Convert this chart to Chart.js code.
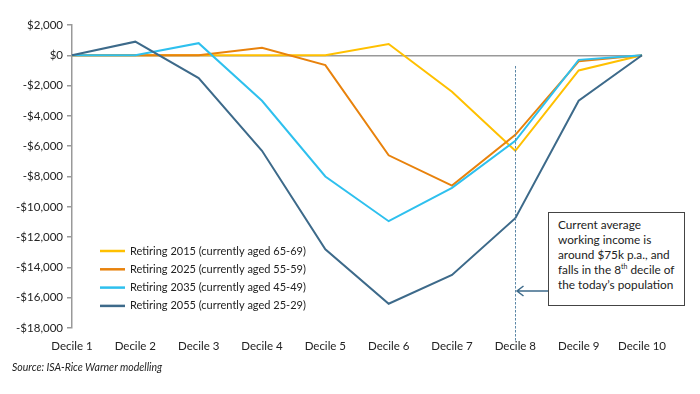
<!DOCTYPE html>
<html lang="en">
<head>
<meta charset="UTF-8">
<title>Retirement outcomes by decile</title>
<style>
body {
    margin: 0;
    background: #fff;
    font-family: Lato, "Open Sans", sans-serif;
}
#wrap {
    position: relative;
    width: 700px;
    height: 394px;
}
#note {
    position: absolute;
    left: 548px;
    top: 212px;
    width: 126px;
    height: 84px;
    border: 1.5px solid #444;
    padding: 4px 0 4px 9px;
    font-size: 11.8px;
    line-height: 15px;
    color: #222;
    background: #fff;
}
#note sup {
    font-size: 7px;
    vertical-align: 5px;
    line-height: 0;
}
#source {
    position: absolute;
    left: 12px;
    top: 361px;
    font-size: 10.5px;
    font-style: italic;
    color: #222;
}
</style>
</head>
<body>
<div id="wrap">
    <canvas id="chart" width="700" height="394"></canvas>
    <div id="note">Current average working income is around $75k p.a., and falls in the 8<sup>th</sup> decile of the today’s population</div>
    <div id="source">Source: ISA-Rice Warner modelling</div>
</div>

<script src="https://cdn.jsdelivr.net/npm/chart.js"></script>
<script>
const deciles = ['Decile 1', 'Decile 2', 'Decile 3', 'Decile 4', 'Decile 5',
                 'Decile 6', 'Decile 7', 'Decile 8', 'Decile 9', 'Decile 10'];

const retiring2015 = [0, 0, 0, 0, 0, 750, -2400, -6300, -1000, 0];
const retiring2025 = [0, 0, 0, 500, -650, -6600, -8600, -5250, -400, 0];
const retiring2035 = [0, 0, 800, -3000, -8000, -10950, -8750, -5650, -300, 0];
const retiring2055 = [0, 900, -1500, -6300, -12800, -16400, -14500, -10750, -3000, 0];

const seriesNames = [
    'Retiring 2015 (currently aged 65-69)',
    'Retiring 2025 (currently aged 55-59)',
    'Retiring 2035 (currently aged 45-49)',
    'Retiring 2055 (currently aged 25-29)'
];
const seriesColors = ['#FFC000', '#E8820C', '#2EC0EE', '#3D6A8A'];

const yTicks = [2000, 0, -2000, -4000, -6000, -8000, -10000, -12000, -14000, -16000, -18000];

function money(v) {
    const s = '$' + Math.abs(v).toLocaleString('en-US');
    return v < 0 ? '-' + s : s;
}

// legend drawn inside the plot, bottom-left
const legendPlugin = {
    id: 'innerLegend',
    afterDraw(chart) {
        const { ctx } = chart;
        ctx.save();
        ctx.font = '11px Lato, sans-serif';
        ctx.textBaseline = 'middle';
        chart.data.datasets.forEach((ds, i) => {
            const y = 251 + i * 18.3;
            ctx.strokeStyle = ds.borderColor;
            ctx.lineWidth = 2.5;
            ctx.beginPath();
            ctx.moveTo(100, y);
            ctx.lineTo(125, y);
            ctx.stroke();
            ctx.fillStyle = '#222';
            ctx.fillText(ds.label, 130, y);
        });
        ctx.restore();
    }
};

// dashed marker at decile 8 with arrow from the note
const markerPlugin = {
    id: 'marker',
    afterDatasetsDraw(chart) {
        const { ctx } = chart;
        const x = Math.round(chart.scales.x.getPixelForValue(7)) + 0.5;
        ctx.save();
        ctx.strokeStyle = '#5B87A6';
        ctx.lineWidth = 1;
        ctx.setLineDash([2.5, 1.5]);
        ctx.beginPath();
        ctx.moveTo(x, 66);
        ctx.lineTo(x, 341);
        ctx.stroke();
        ctx.setLineDash([]);
        ctx.strokeStyle = '#3D6A8A';
        ctx.lineWidth = 1.5;
        ctx.beginPath();
        ctx.moveTo(548, 291);
        ctx.lineTo(x + 1, 291);
        ctx.moveTo(x + 8, 286);
        ctx.lineTo(x + 1.5, 291);
        ctx.lineTo(x + 8, 296);
        ctx.stroke();
        ctx.restore();
    }
};

const allSeries = [retiring2015, retiring2025, retiring2035, retiring2055];

new Chart(document.getElementById('chart'), {
    type: 'line',
    data: {
        labels: deciles,
        datasets: allSeries.map((vals, i) => ({
            label: seriesNames[i],
            data: vals,
            borderColor: seriesColors[i],
            backgroundColor: seriesColors[i],
            borderWidth: 2,
            pointRadius: 0,
            tension: 0,
            order: 4 - i
        }))
    },
    options: {
        responsive: false,
        animation: false,
        layout: { padding: { left: 0, right: 58, top: 25, bottom: 0 } },
        plugins: {
            legend: { display: false },
            tooltip: { enabled: false }
        },
        scales: {
            x: {
                offset: false,
                grid: { display: false },
                border: { display: false },
                ticks: {
                    color: '#222',
                    font: { family: 'Lato', size: 11.5 },
                    padding: 3,
                    maxRotation: 0,
                    autoSkip: false
                },
                afterFit(scale) { scale.height = 66; }
            },
            y: {
                min: -18000,
                max: 2000,
                afterBuildTicks(scale) {
                    scale.ticks = yTicks.map(v => ({ value: v }));
                },
                grid: {
                    color: ctx => ctx.tick && ctx.tick.value === 0 ? '#999' : 'rgba(0,0,0,0)',
                    tickColor: '#999',
                    tickLength: 5,
                    lineWidth: 1.5
                },
                border: { color: '#999', width: 1.5 },
                ticks: {
                    color: '#222',
                    font: { family: 'Lato', size: 11.5 },
                    padding: 4,
                    callback: v => money(v)
                },
                afterFit(scale) { scale.width = 72; }
            }
        }
    },
    plugins: [legendPlugin, markerPlugin]
});
</script>
</body>
</html>
